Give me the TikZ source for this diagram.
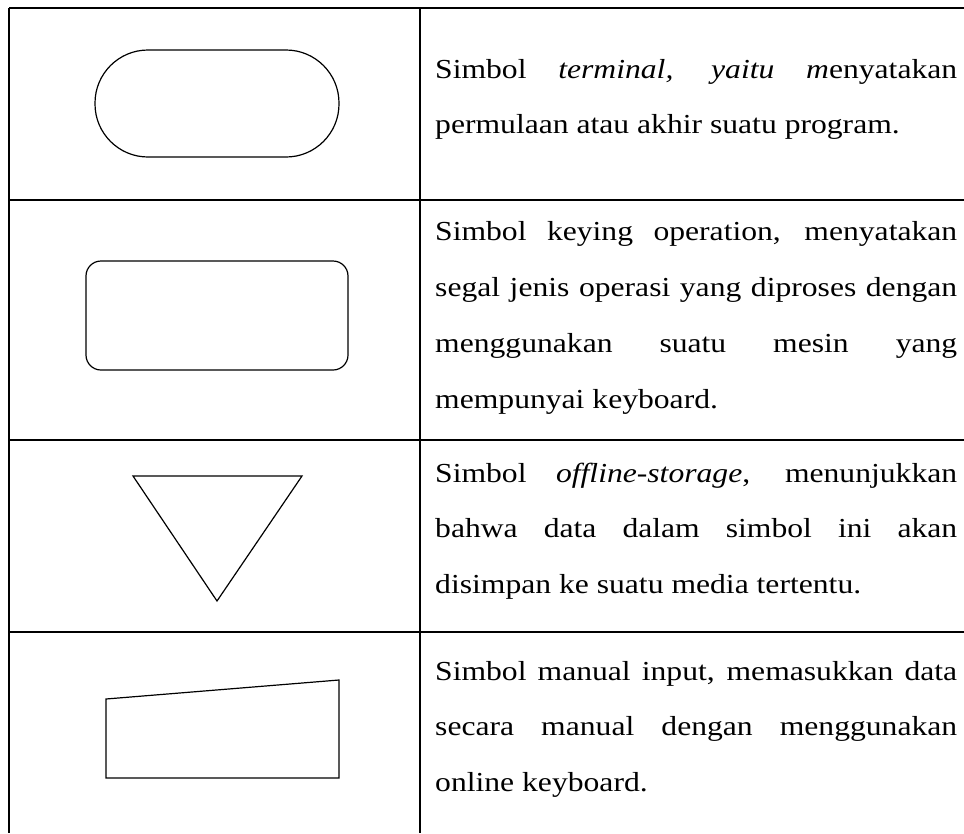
\documentclass[tikz,border=0pt]{standalone}
\usepackage{fontspec}
\setmainfont{Liberation Serif}[FakeStretch=1.15]
\usetikzlibrary{positioning}
\tolerance=10000

\tikzset{
  grid/.style={line width=1.5pt},
  symbol/.style={draw,line width=1.2pt},
  desc/.style={anchor=base west,inner sep=0pt,text width=522pt,align=justify,
    font=\fontsize{27.5}{55.5}\selectfont}
}

\begin{document}
\begin{tikzpicture}[x=1pt,y=-1pt]
  \useasboundingbox (0,0) rectangle (964,833);
  % table rules
  \draw[grid] (9,8) -- (9,833);
  \draw[grid] (420,8) -- (420,833);
  \foreach \y in {8,200,440,632}
    \draw[grid] (9,\y) -- (964,\y);

  % symbols
  \node[symbol,rounded corners=53pt,minimum width=244pt,minimum height=107pt] (terminal) at (217,103.5) {};
  \node[symbol,rounded corners=15pt,minimum width=262pt,minimum height=109pt] (keying) at (217,315.5) {};
  \draw[symbol] (133,476) coordinate (st1) -- (302,476) coordinate (st2)
    -- (217,601) coordinate (st3) -- cycle;
  \draw[symbol] (106,778) coordinate (mi1) -- (339,778) coordinate (mi2)
    -- (339,680) coordinate (mi3) -- (106,699) coordinate (mi4) -- cycle;

  % descriptions
  \node[desc] (dterminal) at (435,78) {Simbol \textit{terminal, yaitu m}enyatakan\linebreak
    permulaan atau akhir suatu program.};
  \node[desc,font=\fontsize{27.5}{56}\selectfont] (dkeying) at (435,240) {Simbol keying operation, menyatakan\linebreak
    segal jenis operasi yang diproses dengan\linebreak
    menggunakan suatu mesin yang\linebreak
    mempunyai keyboard.};
  \node[desc] (dstorage) at (435,482) {Simbol \textit{offline-storage}, menunjukkan\linebreak
    bahwa data dalam simbol ini akan\linebreak
    disimpan ke suatu media tertentu.};
  \node[desc] (dinput) at (435,680) {Simbol manual input, memasukkan data\linebreak
    secara manual dengan menggunakan\linebreak
    online keyboard.};
\end{tikzpicture}
\end{document}
